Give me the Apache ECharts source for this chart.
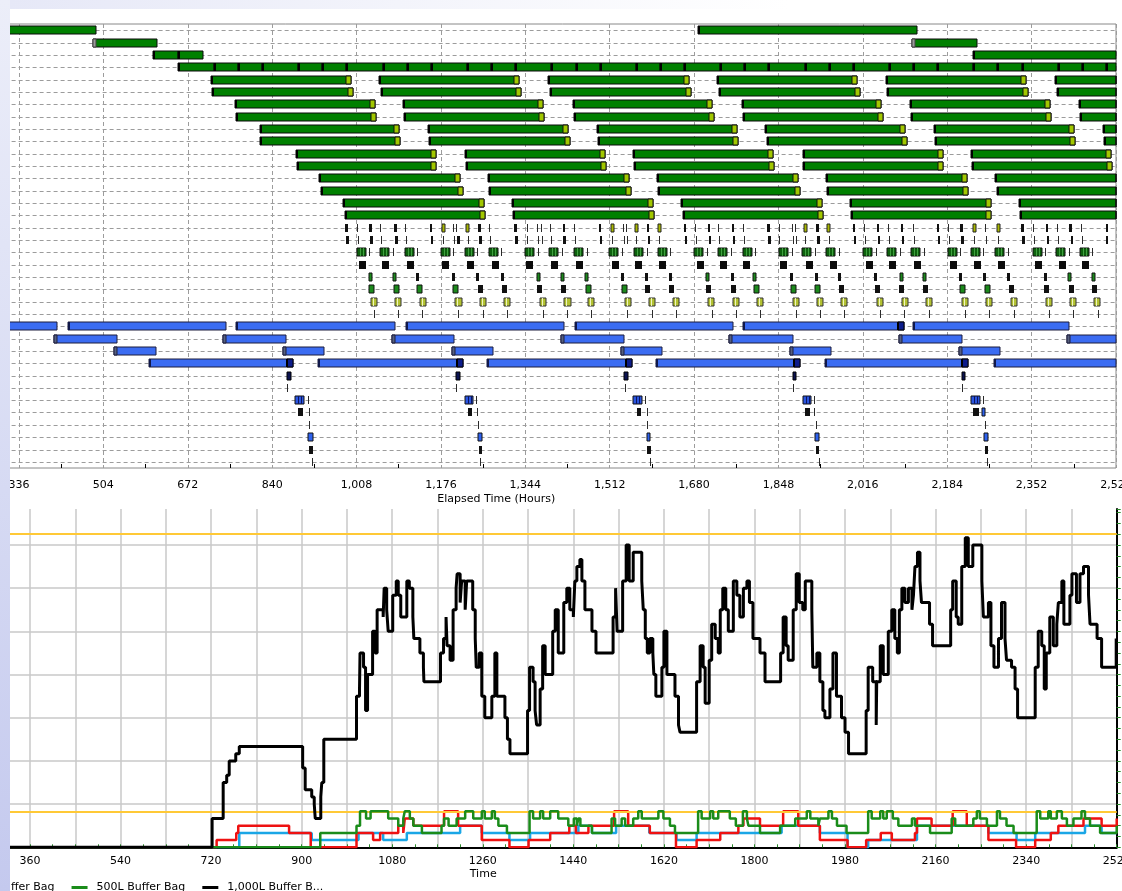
<!DOCTYPE html>
<html>
<head>
<meta charset="utf-8">
<script src="https://cdn.jsdelivr.net/npm/echarts@6/dist/echarts.min.js"></script>
<style>
  html, body { margin: 0; padding: 0; }
  body { width: 1122px; height: 891px; overflow: hidden; position: relative;
         background: linear-gradient(180deg, #eceef9 0%, #d6daf3 55%, #c4c9ee 100%); }
  #paper { position: absolute; left: 10px; top: 0; width: 1112px; height: 891px; background: #fff; }
  #band { position: absolute; left: 10px; top: 0; width: 1112px; height: 9px;
          background: linear-gradient(90deg, #e6e8f7 0%, #f3f4fb 35%, #ffffff 70%); }
  #chart { position: absolute; left: 10px; top: 0; width: 1112px; height: 891px; overflow: hidden; }
</style>
</head>
<body>
<div id="paper"></div>
<div id="band"></div>
<div id="chart"></div>
<script>
// ---------- Schedule (elapsed hours) ----------
const ganttRowCount = 36;

// [row, start, end]
const greenBlocks = [[0,300,489],[0,1687,2123],[2,603,653],[2,653,702],[2,2235,2530]];
const primedBlocks = [[1,483,610],[1,2114,2243]];
const chainRow = 3;
const chainSplits = [652,724,772,820,892,940,988,1060,1108,1156,1228,1276,1324,1396,1444,1492,1564,1612,
  1660,1732,1780,1828,1900,1948,1996,2068,2116,2164,2236,2284,2332,2404,2452,2500,2530];

const tippedBars = [
  [4,718,997],[4,1053,1332],[4,1390,1669],[4,1726,2005],[4,2062,2341],[4,2399,2530],
  [5,720,1000],[5,1056,1336],[5,1393,1673],[5,1730,2010],[5,2065,2345],[5,2402,2530],
  [6,767,1045],[6,1101,1379],[6,1438,1716],[6,1775,2053],[6,2110,2388],[6,2446,2530],
  [7,768,1047],[7,1103,1382],[7,1440,1719],[7,1777,2056],[7,2112,2391],[7,2448,2530],
  [8,815,1093],[8,1151,1429],[8,1487,1765],[8,1822,2100],[8,2158,2436],[8,2495,2530],
  [9,816,1095],[9,1153,1432],[9,1489,1768],[9,1825,2104],[9,2160,2439],[9,2497,2530],
  [10,887,1166],[10,1223,1502],[10,1559,1838],[10,1896,2175],[10,2231,2510],
  [11,889,1167],[11,1225,1504],[11,1561,1840],[11,1896,2176],[11,2233,2512],
  [12,934,1214],[12,1270,1550],[12,1607,1887],[12,1943,2223],[12,2280,2530],
  [13,937,1219],[13,1272,1554],[13,1609,1891],[13,1945,2226],[13,2283,2530],
  [14,982,1262],[14,1318,1598],[14,1654,1934],[14,1991,2271],[14,2327,2530],
  [15,985,1264],[15,1320,1600],[15,1657,1937],[15,1993,2272],[15,2329,2530]
];

const blackMarks = [
  [16,986,991],[16,1033,1038],[16,1083,1088],[16,1154,1159],[16,1250,1255],[16,1322,1327],[16,1419,1424],
  [16,1490,1495],[16,1586,1591],[16,1659,1664],[16,1707,1712],[16,1755,1760],[16,1826,1831],[16,1923,1928],
  [16,1996,2001],[16,2044,2049],[16,2091,2096],[16,2163,2168],[16,2210,2215],[16,2331,2336],[16,2380,2385],
  [16,2427,2432],[16,2500,2505],
  [17,988,993],[17,1035,1040],[17,1085,1090],[17,1156,1161],[17,1209,1214],[17,1252,1257],[17,1324,1329],
  [17,1420,1425],[17,1492,1497],[17,1588,1593],[17,1661,1666],[17,1709,1714],[17,1757,1762],[17,1828,1833],
  [17,1925,1930],[17,1998,2003],[17,2046,2051],[17,2093,2098],[17,2165,2170],[17,2212,2217],[17,2333,2338],
  [17,2382,2387],[17,2430,2435],[17,2500,2505],
  [20,1127,1133],[20,1198,1204],[20,1246,1252],[20,1295,1301],[20,1534,1540],[20,1583,1589],[20,1631,1637],
  [20,1753,1759],[20,1870,1876],[20,1920,1926],[20,1966,1972],[20,2039,2045],[20,2207,2213],[20,2255,2261],
  [20,2303,2309],[20,2376,2382],
  [21,1249,1259],[21,1297,1307],[21,1368,1378],[21,1416,1426],[21,1583,1593],[21,1631,1641],[21,1703,1713],
  [21,1753,1763],[21,1969,1979],[21,2041,2051],[21,2088,2098],[21,2136,2146],[21,2306,2316],[21,2377,2387],
  [21,2426,2436],[21,2473,2483],
  [31,892,902],[31,1229,1237],[31,1566,1574],[31,1900,1911],[31,2236,2248],
  [34,914,921],[34,1252,1257],[34,1587,1594],[34,1923,1929],[34,2259,2266]
];

const oliveMarks = [[16,1178,1184],[16,1225,1231],[16,1514,1520],[16,1562,1568],[16,1609,1615],
  [16,1898,1904],[16,1945,1951],[16,2235,2241],[16,2283,2289]];

const stripedGreenBoxes = [
  [18,1008,1026],[18,1055,1073],[18,1104,1122],[18,1176,1194],[18,1223,1241],[18,1271,1289],[18,1344,1362],
  [18,1392,1410],[18,1441,1459],[18,1511,1529],[18,1561,1579],[18,1608,1626],[18,1680,1698],[18,1728,1746],
  [18,1777,1795],[18,1849,1867],[18,1895,1913],[18,1943,1961],[18,2017,2035],[18,2064,2082],[18,2112,2130],
  [18,2185,2203],[18,2231,2249],[18,2280,2298],[18,2354,2372],[18,2401,2419],[18,2448,2466]
];

const blackBlocks = [
  [19,1012,1026],[19,1058,1072],[19,1108,1122],[19,1179,1193],[19,1227,1241],[19,1277,1291],[19,1346,1360],
  [19,1396,1410],[19,1444,1458],[19,1516,1530],[19,1563,1577],[19,1611,1625],[19,1685,1699],[19,1731,1745],
  [19,1778,1792],[19,1852,1866],[19,1902,1916],[19,1950,1964],[19,2023,2037],[19,2069,2083],[19,2117,2131],
  [19,2189,2203],[19,2238,2252],[19,2286,2300],[19,2358,2372],[19,2406,2420],[19,2453,2467]
];

const greenMarks = [
  [20,1032,1038],[20,1080,1086],[20,1367,1373],[20,1416,1422],[20,1463,1469],[20,1703,1709],[20,1798,1804],
  [20,2089,2095],[20,2136,2142],[20,2424,2430],[20,2472,2478],
  [21,1033,1043],[21,1082,1092],[21,1129,1139],[21,1201,1211],[21,1464,1474],[21,1536,1546],[21,1800,1810],
  [21,1873,1883],[21,1921,1931],[21,2210,2220],[21,2259,2269]
];

const oliveBoxes = [
  [22,1037,1049],[22,1085,1097],[22,1134,1146],[22,1205,1217],[22,1253,1265],[22,1301,1313],[22,1373,1385],
  [22,1422,1434],[22,1469,1481],[22,1542,1554],[22,1590,1602],[22,1638,1650],[22,1708,1720],[22,1758,1770],
  [22,1805,1817],[22,1877,1889],[22,1925,1937],[22,1973,1985],[22,2044,2056],[22,2093,2105],[22,2142,2154],
  [22,2214,2226],[22,2262,2274],[22,2310,2322],[22,2381,2393],[22,2428,2440],[22,2477,2489]
];

// [row, [hours]]
const tickMarks = [
  [16,[1008,1055,1105,1200,1207,1272,1347,1367,1375,1393,1441,1538,1545,1682,1728,1778,1850,1874,1880,2018,
       2067,2115,2186,2259,2354,2402,2450]],
  [17,[1010,1057,1107,1180,1202,1230,1274,1347,1369,1377,1395,1443,1516,1540,1547,1565,1611,1684,1730,1780,
       1850,1876,1882,1900,1948,2020,2069,2117,2188,2237,2261,2285,2356,2404,2452]],
  [18,[1033,1080,1129,1201,1248,1296,1369,1417,1466,1536,1586,1633,1705,1753,1802,1874,1920,1968,2042,2089,
       2137,2210,2256,2305,2379,2426,2473]],
  [23,[1043,1091,1138,1211,1259,1307,1379,1428,1475,1547,1596,1644,1715,1764,1811,1883,1931,1979,2050,2098,
       2148,2219,2268,2316,2387,2435,2484]],
  [29,[870,1207,1542,1877,2213]],
  [30,[912,1246,1582,1919,2256]],
  [31,[914,1247,1586,1919]],
  [32,[914,1249,1586,1923,2259]],
  [35,[919,1254,1592,1928,2264]]
];

const blueBars = [[24,300,412],[24,434,748],[24,769,1085],[24,1106,1422],[24,1442,1757],[24,2115,2427],[27,2277,2530]];
const blueTippedBars = [[24,1778,2097],[27,595,882],[27,932,1219],[27,1267,1556],[27,1604,1891],[27,1941,2226]];
const blueLeadBars = [
  [25,406,532],[25,743,868],[25,1079,1203],[25,1416,1540],[25,1750,1876],[25,2087,2213],[25,2423,2530],
  [26,526,608],[26,862,944],[26,1199,1280],[26,1535,1617],[26,1871,1953],[26,2208,2289]
];
const navyMarks = [[28,869,877],[28,1206,1214],[28,1541,1549],[28,1876,1883],[28,2213,2219]];
const stripedBlueBoxes = [[30,886,903],[30,1223,1240],[30,1559,1576],[30,1896,1913],[30,2231,2249]];
const blueMarks = [[33,912,921],[33,1250,1257],[33,1586,1592],[33,1921,1929],[33,2257,2266],[31,2254,2260]];

// ---------- Bag inventory over time: [time, level held from that time] ----------
const seriesNames = ['100L Buffer Bag', '200L Buffer Bag', '500L Buffer Bag', '1,000L Buffer Bag'];
const legendShortNames = { '1,000L Buffer Bag': '1,000L Buffer B...' };
const bag100 = [[320,0],[776,2],[920,1],[1013,2],[1062,1],[1109,2],[1215,3],[1258,2],[1313,1],[1354,2],[1450,3],
  [1477,2],[1525,3],[1591,2],[1645,1],[1685,2],[1854,3],[1930,2],[1985,0],[2026,1],[2123,3],[2265,2],[2321,1],
  [2358,2],[2457,3],[2490,2],[2520,2]];
const bag200 = [[320,0],[731,1],[770,2],[774,3],[875,2],[918,0],[1009,2],[1042,1],[1056,2],[1092,3],[1102,2],
  [1105,4],[1122,3],[1183,5],[1211,3],[1258,1],[1313,0],[1351,1],[1394,2],[1432,3],[1445,2],[1470,3],[1521,5],
  [1549,3],[1592,2],[1644,0],[1685,1],[1732,2],[1768,3],[1778,4],[1811,3],[1857,5],[1887,3],[1930,1],[1985,0],
  [2022,1],[2051,2],[2073,1],[2119,2],[2123,4],[2152,3],[2194,5],[2222,3],[2265,1],[2320,0],[2358,1],[2389,2],
  [2404,3],[2454,4],[2490,3],[2520,4]];
const bag500 = [[320,0],[937,2],[1009,3],[1016,5],[1028,4],[1037,5],[1072,4],[1092,3],[1102,4],[1105,5],[1115,4],
  [1122,3],[1139,2],[1178,3],[1183,4],[1192,3],[1208,4],[1225,5],[1241,4],[1258,5],[1264,4],[1278,5],[1284,4],
  [1291,3],[1308,2],[1353,5],[1360,4],[1374,5],[1380,4],[1394,5],[1410,4],[1430,3],[1441,4],[1447,3],[1450,4],
  [1454,3],[1477,2],[1516,4],[1523,3],[1536,4],[1543,3],[1559,4],[1569,5],[1576,4],[1609,5],[1619,4],[1632,3],
  [1642,2],[1688,5],[1695,4],[1712,5],[1718,4],[1728,5],[1751,4],[1763,3],[1777,5],[1785,4],[1788,3],[1811,2],
  [1851,3],[1881,4],[1904,5],[1911,4],[1927,3],[1930,4],[1947,5],[1954,4],[1964,3],[1983,2],[2026,5],[2033,4],
  [2050,5],[2056,4],[2063,5],[2075,4],[2086,3],[2113,4],[2119,3],[2149,2],[2192,4],[2199,3],[2235,4],[2242,5],
  [2248,4],[2262,3],[2282,5],[2288,4],[2301,3],[2315,2],[2361,5],[2368,4],[2384,5],[2389,4],[2401,5],[2411,4],
  [2421,3],[2434,4],[2450,5],[2457,4],[2467,3],[2487,2],[2520,3]];
const bag1000 = [[320,0],[722,4],[744,9],[751,10],[756,12],[769,13],[776,14],[902,11],[907,8],[920,7],[925,6],
  [927,4],[938,7],[940,9],[944,15],[1009,21],[1015,22],[1016,27],[1023,25],[1027,19],[1031,24],[1041,30],
  [1046,27],[1050,33],[1062,32],[1064,36],[1069,33],[1072,30],[1081,35],[1088,37],[1092,35],[1097,32],
  [1109,37],[1114,36],[1121,32],[1123,29],[1135,27],[1142,25],[1143,23],[1176,27],[1182,29],[1187,32],
  [1189,28],[1195,26],[1201,33],[1207,36],[1209,38],[1215,34],[1218,37],[1225,33],[1228,37],[1240,33],
  [1245,29],[1247,25],[1253,27],[1258,21],[1264,18],[1278,21],[1284,27],[1288,21],[1304,18],[1309,15],
  [1314,13],[1349,19],[1353,25],[1360,23],[1364,19],[1367,17],[1374,22],[1379,28],[1384,24],[1399,30],
  [1404,33],[1410,27],[1421,34],[1427,36],[1433,33],[1440,32],[1443,37],[1447,39],[1453,40],[1457,37],
  [1463,33],[1477,30],[1485,27],[1519,32],[1524,36],[1527,30],[1538,37],[1545,42],[1551,37],[1559,41],
  [1576,37],[1579,33],[1583,29],[1587,27],[1592,29],[1598,27],[1600,24],[1604,21],[1616,25],[1620,30],
  [1626,24],[1642,21],[1649,17],[1652,16],[1685,23],[1692,28],[1698,25],[1702,20],[1710,26],[1715,31],
  [1722,29],[1728,27],[1732,33],[1737,36],[1743,33],[1748,30],[1758,37],[1765,35],[1771,32],[1778,36],
  [1785,37],[1790,34],[1797,29],[1811,27],[1821,23],[1852,27],[1857,32],[1863,28],[1867,26],[1877,33],
  [1883,38],[1889,34],[1896,33],[1901,37],[1914,33],[1916,25],[1924,27],[1930,23],[1936,19],[1940,18],
  [1950,22],[1956,27],[1963,21],[1973,18],[1980,16],[1987,13],[2022,19],[2026,25],[2035,23],[2042,17],
  [2043,23],[2050,28],[2056,24],[2066,30],[2073,33],[2079,29],[2084,27],[2088,33],[2093,36],[2099,34],
  [2106,36],[2113,33],[2116,35],[2119,39],[2124,41],[2129,37],[2132,34],[2148,31],[2154,28],[2190,33],
  [2194,37],[2201,32],[2205,31],[2212,39],[2219,43],[2225,39],[2234,42],[2252,37],[2255,32],[2265,34],
  [2270,28],[2276,25],[2285,29],[2291,34],[2298,29],[2301,26],[2311,25],[2318,22],[2323,18],[2358,25],
  [2364,30],[2371,28],[2376,22],[2380,27],[2387,32],[2394,28],[2401,31],[2404,34],[2411,37],[2415,31],
  [2427,35],[2431,38],[2440,34],[2447,38],[2454,39],[2464,35],[2467,31],[2481,29],[2490,25],[2519,29],[2520,29]];
const capacityLines = [43.5, 5];

// ---------- assemble gantt tasks ----------
const tasks = [];
function addTasks(list, type) { list.forEach(t => tasks.push({ row: t[0], start: t[1], end: t[2], type })); }
addTasks(greenBlocks, 'green');
addTasks(primedBlocks, 'primed');
for (let i = 0; i < chainSplits.length - 1; i++) tasks.push({ row: chainRow, start: chainSplits[i], end: chainSplits[i + 1], type: 'green' });
addTasks(tippedBars, 'tipped');
addTasks(blueBars, 'blue');
addTasks(blueLeadBars, 'blueLead');
addTasks(blueTippedBars, 'blueTip');
addTasks(blackMarks, 'mark');
addTasks(oliveMarks, 'olive');
addTasks(stripedGreenBoxes, 'stripeGreen');
addTasks(blackBlocks, 'block');
addTasks(greenMarks, 'greenMark');
addTasks(oliveBoxes, 'oliveBox');
addTasks(navyMarks, 'navyMark');
addTasks(stripedBlueBoxes, 'stripeBlue');
addTasks(blueMarks, 'blueMark');
tickMarks.forEach(([row, hours]) => hours.forEach(h => tasks.push({ row, start: h, end: h + 1, type: 'tick' })));

const rowCategories = Array.from({ length: ganttRowCount }, (_, i) => 'Row ' + (i + 1));

function renderGuide(params, api) {
  const cs = params.coordSys;
  const y = Math.round(api.coord([cs.x, api.value(0)])[1]) + 0.5;
  return { type: 'line', shape: { x1: cs.x, y1: y, x2: cs.x + cs.width, y2: y },
           style: { stroke: '#9c9c9c', lineWidth: 1, lineDash: [4, 3] }, silent: true };
}

function renderTask(params, api) {
  const task = tasks[params.dataIndex];
  const cs = params.coordSys;
  const clip = { x: cs.x, y: cs.y, width: cs.width, height: cs.height };
  const a = api.coord([task.start, task.row]);
  const b = api.coord([task.end, task.row]);
  const H = 8;
  const top = Math.round(a[1] - H / 2);
  const x0 = Math.round(a[0]);
  const x1 = Math.max(Math.round(b[0]), x0 + 1);
  const kids = [];
  function box(xa, xb, fill, stroke) {
    const r = echarts.graphic.clipRectByRect({ x: xa, y: top, width: Math.max(xb - xa, 1), height: H }, clip);
    if (!r) return;
    kids.push({ type: 'rect', shape: r, style: { fill, stroke: stroke || null, lineWidth: stroke ? 1 : 0 } });
  }
  const G = '#008000', B = '#3b6cf2';
  switch (task.type) {
    case 'green': box(x0, x1, G, '#0a0a0a'); box(x0, x0 + 2, '#000'); break;
    case 'primed': box(x0, x1, G, '#0a0a0a'); box(x0, x0 + 3, '#9a9a9a', '#444'); break;
    case 'tipped': box(x0, x1, G, '#0a0a0a'); box(x0, x0 + 2, '#000'); box(x1 - 5, x1, '#a2c800', '#111'); break;
    case 'blue': box(x0, x1, B, '#1c1c3c'); box(x0, x0 + 2, '#10184a'); break;
    case 'blueLead': box(x0, x1, B, '#1c1c3c'); box(x0, x0 + 3, '#57607f', '#1c1c3c'); break;
    case 'blueTip': box(x0, x1, B, '#1c1c3c'); box(x0, x0 + 2, '#10184a'); box(x1 - 6, x1, '#0c1c8c', '#000'); box(x1 - 7, x1 - 5, '#000'); break;
    case 'mark': box(x0, Math.max(x1, x0 + 2), '#111'); break;
    case 'tick': box(x0, x0 + 1, '#2a2a2a'); break;
    case 'olive': box(x0, Math.max(x1, x0 + 3), '#a9b800', '#222'); break;
    case 'stripeGreen': box(x0, x1, '#0d610d', '#111'); box(x0 + 3, x0 + 4, '#3fa03f'); box(x0 + 6, x0 + 7, '#3fa03f'); break;
    case 'block': box(x0, x1, '#0b0b0b'); break;
    case 'greenMark': box(x0, x1, '#1c8a1c', '#111'); break;
    case 'oliveBox': box(x0, x1, '#b3c232', '#333'); box(x0 + 2, x0 + 3, '#eef5c0'); break;
    case 'navyMark': box(x0, x1, '#0b1250', '#000'); break;
    case 'stripeBlue': box(x0, x1, '#2b55e0', '#111'); box(x0 + 3, x0 + 4, '#0a1660'); box(x0 + 6, x0 + 7, '#0a1660'); break;
    case 'blueMark': box(x0, x1, '#2e62ee', '#111'); break;
  }
  return { type: 'group', children: kids };
}

const chart = echarts.init(document.getElementById('chart'), null, { renderer: 'canvas' });
const axisFont = { color: '#000', fontSize: 11, fontFamily: 'DejaVu Sans' };
const lineColors = ['#1aa6e6', '#ee1111', '#1a8c1a', '#000000'];
const lineWidths = [2.5, 2.5, 2.5, 3];
const bagData = [bag100, bag200, bag500, bag1000];

chart.setOption({
  animation: false,
  textStyle: { fontFamily: 'DejaVu Sans' },
  grid: [
    { left: -75.4, right: 6, top: 24, height: 444, show: true, borderColor: '#888', borderWidth: 1,
      containLabel: false, outerBoundsMode: 'none' },
    { left: -25.3, right: 5.3, top: 509, height: 338.3, containLabel: false, outerBoundsMode: 'none' }
  ],
  xAxis: [
    { gridIndex: 0, type: 'value', min: 168, max: 2520, interval: 168,
      axisLine: { lineStyle: { color: '#000', width: 2 } },
      axisTick: { inside: true, length: 4, lineStyle: { color: '#000' } },
      minorTick: { show: true, splitNumber: 2, length: 4, lineStyle: { color: '#000' } },
      axisLabel: Object.assign({ margin: 12, formatter: v => v.toLocaleString('en-US') }, axisFont),
      splitLine: { show: true, lineStyle: { color: '#9c9c9c', type: [4, 3] } },
      name: 'Elapsed Time (Hours)', nameLocation: 'middle', nameGap: 26,
      nameTextStyle: Object.assign({ padding: [0, 58, 0, 0] }, axisFont) },
    { gridIndex: 1, type: 'value', min: 270, max: 2520, interval: 90,
      axisLine: { lineStyle: { color: '#000', width: 2 } },
      axisTick: { inside: true, length: 3, lineStyle: { color: '#2a8a2a' } },
      minorTick: { show: true, splitNumber: 2, length: 3, lineStyle: { color: '#2a8a2a' } },
      axisLabel: Object.assign({ margin: 8, formatter: v => (v % 180 === 0 ? String(v) : '') }, axisFont),
      splitLine: { show: true, lineStyle: { color: '#c8c8c8', width: 1.5 } },
      name: 'Time', nameLocation: 'middle', nameGap: 21,
      nameTextStyle: Object.assign({ padding: [0, 135, 0, 0] }, axisFont) }
  ],
  yAxis: [
    { gridIndex: 0, type: 'category', inverse: true, data: rowCategories, show: false },
    { gridIndex: 1, type: 'value', min: 0, max: 47, interval: 6,
      axisLine: { show: false }, axisTick: { show: false }, axisLabel: { show: false },
      splitLine: { show: true, showMaxLine: false, lineStyle: { color: '#c8c8c8', width: 1.5 } } },
    { gridIndex: 1, type: 'value', position: 'right', min: 0, max: 47, interval: 1.5,
      axisLine: { show: true, lineStyle: { color: '#000', width: 2 } },
      axisTick: { show: true, inside: false, length: 4, lineStyle: { color: '#2a8a2a' } },
      axisLabel: { show: false }, splitLine: { show: false } }
  ],
  legend: {
    left: -205, top: 877, itemWidth: 16, itemHeight: 3, itemGap: 17, icon: 'rect',
    selectedMode: false,
    textStyle: Object.assign({ padding: [0, 0, 0, 4] }, axisFont),
    formatter: name => legendShortNames[name] || name,
    data: seriesNames
  },
  series: [
    { type: 'custom', name: 'rows', xAxisIndex: 0, yAxisIndex: 0, silent: true, z: 1,
      data: rowCategories.map((_, i) => [i]), encode: { y: 0 }, renderItem: renderGuide },
    { type: 'custom', name: 'schedule', xAxisIndex: 0, yAxisIndex: 0, silent: true, z: 3,
      data: tasks.map(t => [t.start, t.row, t.end]), encode: { x: [0, 2], y: 1 }, renderItem: renderTask }
  ].concat(seriesNames.map((name, i) => ({
    name, type: 'line', xAxisIndex: 1, yAxisIndex: 1, step: 'end', showSymbol: false, symbol: 'none',
    data: bagData[i], z: 3 + i,
    lineStyle: { color: lineColors[i], width: lineWidths[i] }, itemStyle: { color: lineColors[i] },
    markLine: i === 0 ? { silent: true, symbol: 'none', label: { show: false },
      lineStyle: { color: '#ffc936', width: 2, type: 'solid' },
      data: capacityLines.map(v => ({ yAxis: v })) } : undefined
  })))
});
</script>
</body>
</html>
